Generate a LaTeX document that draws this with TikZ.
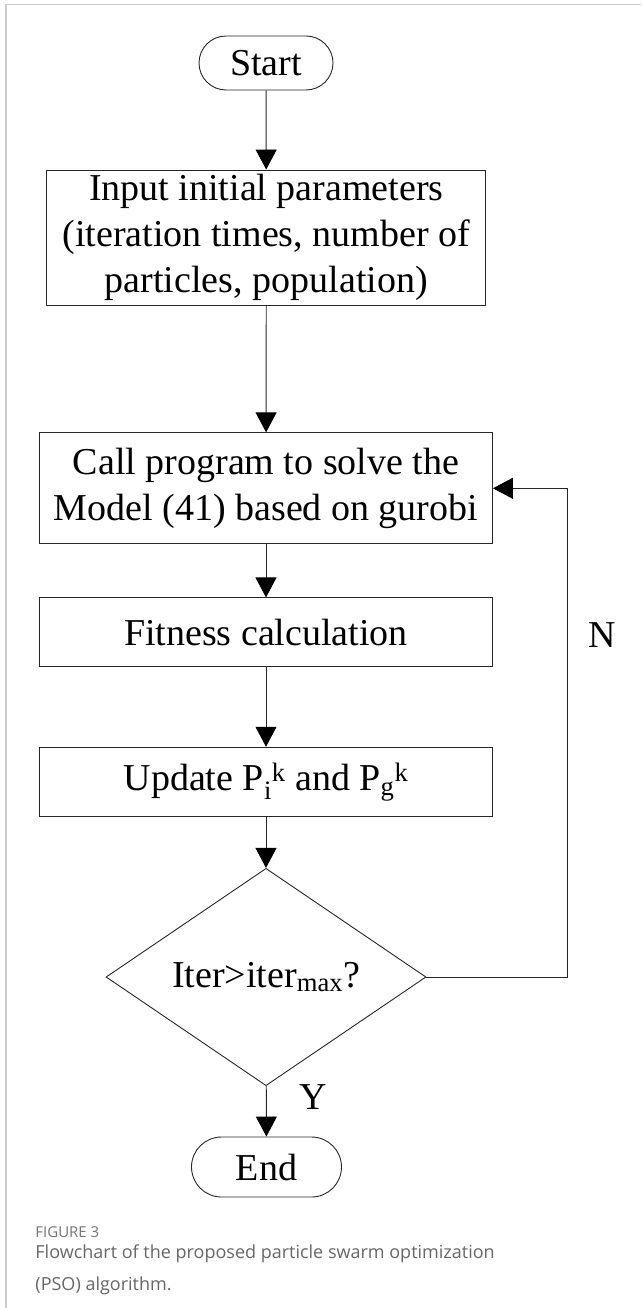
\documentclass[tikz,border=0pt]{standalone}
\usepackage{fontspec}
\setmainfont{Liberation Serif}
\newfontfamily\capfont{Open Sans}
\usetikzlibrary{shapes.geometric,arrows.meta}

\begin{document}
\begin{tikzpicture}[x=1pt,y=-1pt,
  line width=0.9pt,
  every node/.style={font=\fontsize{38}{46}\selectfont},
  flowline/.style={draw=black!85, line width=0.9pt},
  arrowline/.style={flowline, -{Triangle[width=21pt,length=20pt,color=black,fill=black]}},
  terminal/.style={draw=black!85, rounded corners=27pt, inner sep=0pt},
  procbox/.style={draw=black!85, rectangle, inner sep=0pt, align=center},
  decision/.style={draw=black!85, diamond, inner sep=0pt, minimum width=320pt, minimum height=160pt},
  lbl/.style={inner sep=0pt}
]
% page extent and outer frame
\useasboundingbox (0,0) rectangle (641,1308);
\draw[black!20, line width=1.6pt] (6,1308) -- (6,4.5) -- (641,4.5);

% flowchart nodes
\node[terminal, minimum width=134pt, minimum height=54pt] (start) at (266,63) {Start};
\node[procbox, minimum width=439pt, minimum height=135pt] (input) at (266.3,237.5)
  {Input initial parameters\\(iteration times, number of\\particles, population)};
\node[procbox, minimum width=453pt, minimum height=111pt] (call) at (266,488.3)
  {Call program to solve the\\Model (41) based on gurobi};
\node[procbox, minimum width=453pt, minimum height=69pt] (fit) at (266,632.4)
  {Fitness calculation};
\node[procbox, minimum width=453pt, minimum height=69pt] (upd) at (266,781.7)
  {Update P\textsubscript{i}\textsuperscript{k} and P\textsubscript{g}\textsuperscript{k}};
\node[decision] (dec) at (266,977) {Iter>iter\textsubscript{max}?};
\node[terminal, rounded corners=30pt, minimum width=150pt, minimum height=60pt] (end) at (266.5,1167) {End};

% branch labels
\node[lbl] (nlab) at (602,635) {N};
\node[lbl] (ylab) at (313,1097) {Y};

% connectors
\draw[arrowline] (start) -- (input);
\draw[arrowline] (input) -- (call);
\draw[arrowline] (call) -- (fit);
\draw[arrowline] (fit) -- (upd);
\draw[arrowline] (upd) -- (dec);
\draw[arrowline] (dec) -- (end);
\coordinate (loopc) at (567,977);
\draw[arrowline] (dec.east) -- (loopc) |- (call.east);

% caption
\node[anchor=west, inner sep=0pt, font=\capfont\fontsize{15}{18}\selectfont, text=black!55] (figno) at (35,1232) {FIGURE 3};
\node[anchor=north west, inner sep=0pt, align=left, font=\capfont\fontsize{18}{32}\selectfont, text=black!60] (captext) at (35,1244)
  {Flowchart of the proposed particle swarm optimization\\(PSO) algorithm.};
\end{tikzpicture}
\end{document}
